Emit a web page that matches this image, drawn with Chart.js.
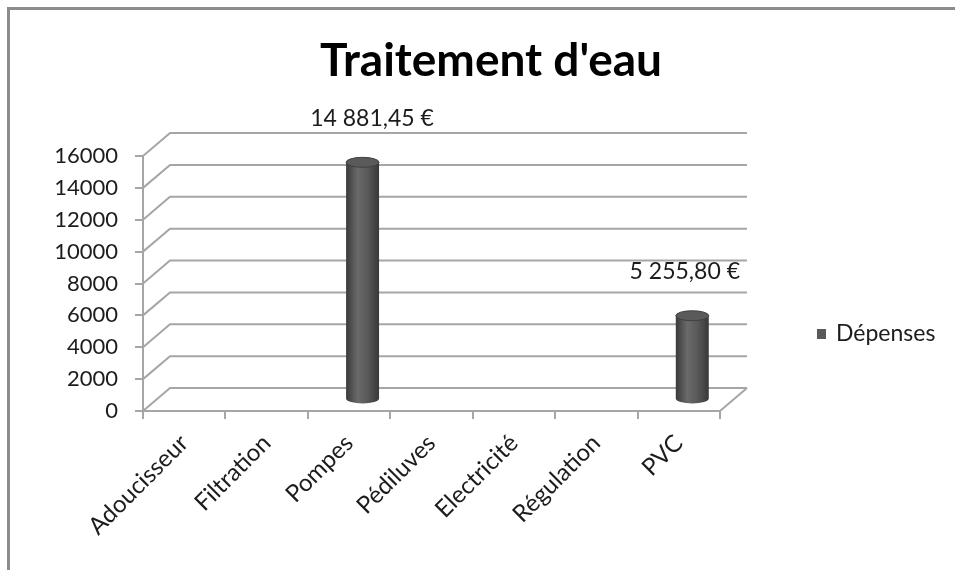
<!DOCTYPE html>
<html>
<head>
<meta charset="utf-8">
<script src="https://cdn.jsdelivr.net/npm/chart.js@4.4.1/dist/chart.umd.min.js"></script>
<style>
  html, body { margin: 0; padding: 0; background: #fff; }
  #wrap { width: 955px; height: 570px; }
</style>
</head>
<body>
<div id="wrap"><canvas id="traitement"></canvas></div>
<script>
const titre = "Traitement d'eau";
const serie = 'Dépenses';
const categories = ['Adoucisseur', 'Filtration', 'Pompes', 'Pédiluves', 'Electricité', 'Régulation', 'PVC'];
const depenses = [null, null, 14881.45, null, null, null, 5255.80];
const yTicks = [0, 2000, 4000, 6000, 8000, 10000, 12000, 14000, 16000];

// décalage de la perspective (mur du fond)
const DX = 27, DY = 23;
const GRIS = '#a6a6a6';
const TEXTE = '#1c1c1c';

function euros(v) {
  const [e, c] = v.toFixed(2).split('.');
  return e.replace(/\B(?=(\d{3})+(?!\d))/g, ' ') + ',' + c + ' €';
}

const decor3d = {
  id: 'decor3d',
  beforeDatasetsDraw(chart) {
    const ctx = chart.ctx;
    const a = chart.chartArea;
    const ys = chart.scales.y;
    ctx.save();
    ctx.strokeStyle = GRIS;
    ctx.lineWidth = 2;
    yTicks.forEach(v => {
      const y = ys.getPixelForValue(v);
      ctx.beginPath();
      ctx.moveTo(a.left, y);
      ctx.lineTo(a.left + DX, y - DY);
      ctx.lineTo(a.right + DX, y - DY);
      ctx.stroke();
    });
    // bord droit du sol
    const y0 = ys.getPixelForValue(0);
    ctx.beginPath();
    ctx.moveTo(a.right, y0);
    ctx.lineTo(a.right + DX, y0 - DY);
    ctx.stroke();
    ctx.restore();
  },
  afterDatasetsDraw(chart) {
    const ctx = chart.ctx;
    const a = chart.chartArea;
    const meta = chart.getDatasetMeta(0);
    ctx.save();
    meta.data.forEach((el, i) => {
      const v = depenses[i];
      if (v == null) return;
      const cx = el.x + DX / 2;
      const top = el.y - DY / 2;
      const base = el.base - DY / 2;
      const rx = el.width / 2;
      const ry = 5;

      const g = ctx.createLinearGradient(cx - rx, 0, cx + rx, 0);
      g.addColorStop(0, '#3a3a3a');
      g.addColorStop(0.35, '#6a6a6a');
      g.addColorStop(0.65, '#595959');
      g.addColorStop(1, '#383838');
      ctx.fillStyle = g;
      ctx.beginPath();
      ctx.moveTo(cx - rx, top);
      ctx.lineTo(cx - rx, base);
      ctx.ellipse(cx, base, rx, ry, 0, Math.PI, 0, true);
      ctx.lineTo(cx + rx, top);
      ctx.closePath();
      ctx.fill();

      ctx.beginPath();
      ctx.ellipse(cx, top, rx, ry, 0, 0, Math.PI * 2);
      ctx.fillStyle = '#5a5a5a';
      ctx.fill();
      ctx.strokeStyle = '#404040';
      ctx.lineWidth = 1;
      ctx.stroke();

      // étiquette de valeur
      const txt = euros(v);
      ctx.font = '23px Lato';
      const w = ctx.measureText(txt).width;
      let lx = cx + 9.5;
      const limite = a.right + DX - 7;
      if (lx + w / 2 > limite) lx = limite - w / 2;
      ctx.fillStyle = TEXTE;
      ctx.textAlign = 'center';
      ctx.textBaseline = 'middle';
      ctx.fillText(txt, lx, top - 44);
    });
    ctx.restore();
  },
  afterDraw(chart) {
    const ctx = chart.ctx;
    ctx.save();
    // cadre
    ctx.strokeStyle = '#8c8c8c';
    ctx.lineWidth = 3;
    ctx.strokeRect(8.5, 8.5, 1200, 1200);
    // titre
    ctx.fillStyle = '#000';
    ctx.font = 'bold 46px Lato';
    ctx.textAlign = 'center';
    ctx.textBaseline = 'alphabetic';
    ctx.fillText(titre, 491, 76);
    // légende
    ctx.fillStyle = '#595959';
    ctx.fillRect(817, 329, 9, 10);
    ctx.fillStyle = TEXTE;
    ctx.font = '23px Lato';
    ctx.textAlign = 'left';
    ctx.textBaseline = 'middle';
    ctx.fillText(serie, 836, 334);
    ctx.restore();
  }
};

new Chart(document.getElementById('traitement'), {
  type: 'bar',
  data: {
    labels: categories,
    datasets: [{
      label: serie,
      data: depenses,
      backgroundColor: 'rgba(0,0,0,0)',
      borderWidth: 0,
      categoryPercentage: 1,
      barPercentage: 0.4
    }]
  },
  options: {
    responsive: true,
    maintainAspectRatio: false,
    animation: false,
    events: [],
    layout: {
      padding: { top: 156, right: 235, left: 0, bottom: 0 }
    },
    plugins: {
      legend: { display: false },
      title: { display: false },
      tooltip: { enabled: false }
    },
    scales: {
      x: {
        afterFit: s => { s.height = 159; },
        grid: {
          drawOnChartArea: false,
          drawTicks: true,
          tickLength: 8,
          color: GRIS,
          lineWidth: 2
        },
        border: { display: true, color: GRIS, width: 2 },
        ticks: {
          autoSkip: false,
          minRotation: 45,
          maxRotation: 45,
          padding: 10,
          color: TEXTE,
          font: { family: 'Lato', size: 24 }
        }
      },
      y: {
        min: 0,
        max: 16000,
        afterFit: s => { s.width = 143; },
        afterBuildTicks: s => { s.ticks = yTicks.map(v => ({ value: v })); },
        grid: {
          drawOnChartArea: false,
          drawTicks: true,
          tickLength: 8,
          color: GRIS,
          lineWidth: 2
        },
        border: { display: true, color: GRIS, width: 2 },
        ticks: {
          padding: 17,
          color: TEXTE,
          font: { family: 'Lato', size: 22 },
          callback: v => String(v)
        }
      }
    }
  },
  plugins: [decor3d]
});
</script>
</body>
</html>
